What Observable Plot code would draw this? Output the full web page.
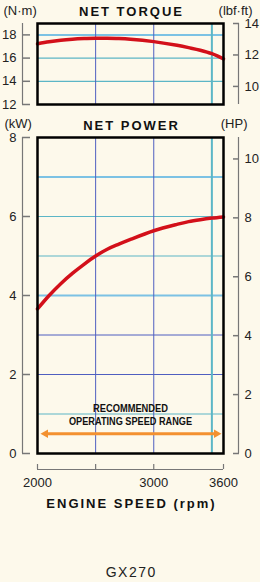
<!DOCTYPE html>
<html><head><meta charset="utf-8">
<script src="https://cdn.jsdelivr.net/npm/d3@7"></script>
<script src="https://cdn.jsdelivr.net/npm/@observablehq/plot@0.6"></script>
<style>
html,body{margin:0;padding:0;background:#fdf9eb;}
#chart{width:260px;height:582px;overflow:hidden;}
#chart svg{display:block;background:#fdf9eb;}
</style></head><body><div id="chart"></div>
<script>
// ---- data ----
const speedRpm = [2000, 2100, 2200, 2300, 2400, 2500, 2600, 2700, 2800, 3000, 3200, 3300, 3400, 3500, 3600];
const torqueNm = [17.23, 17.4, 17.53, 17.62, 17.68, 17.72, 17.72, 17.68, 17.62, 17.42, 17.1, 16.9, 16.68, 16.38, 15.93];
const powerKw  = [3.66, 4.0, 4.3, 4.56, 4.79, 5.0, 5.17, 5.3, 5.42, 5.64, 5.8, 5.87, 5.92, 5.96, 5.99];

const torqueTicksNm = [12, 14, 16, 18];
const torqueTicksLbf = [10, 12, 14];
const powerTicksKw = [0, 2, 4, 6, 8];
const powerTicksHp = [0, 2, 4, 6, 8, 10];
const speedTicks = [2000, 2500, 3000, 3600];
const speedLabels = ["2000", "", "3000", "3600"];

const torqueGridTeal = [14, 16];
const torqueGridLight = [18];
const powerGridBlue = [2, 3];
const powerGridTeal = [1, 5, 6];
const powerGridLight = [4, 7];
const speedGridBlue = [2500, 3000];
const speedGridTeal = [3500];

const rangeSpeed = [2000, 3600];
const rangeLevelKw = 0.5;
const rangeLabelSpeed = 2800;
const rangeLabelLines = ["RECOMMENDED", "OPERATING SPEED RANGE"];
const rangeLabelKw = [1.14, 0.81];

const NM_PER_LBFFT = 1.35582;
const KW_PER_HP = 0.7457;

const torqueTitle = "NET TORQUE", powerTitle = "NET POWER";
const axisTitle = "ENGINE SPEED (rpm)", model = "GX270";

// ---- styles ----
const BG = "#fdf9eb", TEAL = "#5cb6c6", LIGHT = "#7cc2e4", BLUE = "#4f5fc0", RED = "#d3101a",
      ORANGE = "#f39130", GRAY = "#777", INK = "#222";
const FONT = "Liberation Sans, Arial, Helvetica, sans-serif";

const rows = speedRpm.map((s, i) => ({speed: s, torque: torqueNm[i], power: powerKw[i]}));
const rangeRows = rangeLabelLines.map((t, i) => ({text: t, kw: rangeLabelKw[i]}));

function sideAxes(leftTicks, rightTicks, factor, yMin, yMax) {
  return [
    Plot.ruleX([2000], {y1: yMin, y2: yMax, dx: -15, stroke: GRAY, strokeWidth: 1.2}),
    Plot.axisY(leftTicks, {anchor: "left", tickSize: 8, dx: -7, tickPadding: 6, stroke: GRAY, strokeWidth: 1.5, fill: INK, fontSize: 13, label: null}),
    Plot.ruleX([3600], {y1: yMin, y2: yMax, dx: 15, stroke: GRAY, strokeWidth: 1.2}),
    Plot.axisY(rightTicks.map(v => v * factor), {anchor: "right", tickSize: 6, dx: 9, tickPadding: 6, stroke: GRAY, strokeWidth: 1.5, fill: INK, fontSize: 13, label: null, tickFormat: d => String(Math.round(d / factor))})
  ];
}
const label = (s, opts) => Plot.text([s], {text: d => d, lineAnchor: "middle", fontSize: 13, fill: INK, ...opts});

const tTop = 14 * NM_PER_LBFFT;
const torque = Plot.plot({
  width: 260, height: 112, marginLeft: 37, marginRight: 37, marginTop: 23, marginBottom: 8,
  style: {background: BG, fontFamily: FONT, fontSize: "13px", color: INK, overflow: "visible"},
  x: {domain: [2000, 3600], axis: null},
  y: {domain: [12, tTop]},
  marks: [
    Plot.ruleY(torqueGridTeal, {stroke: TEAL, strokeWidth: 1.2}),
    Plot.ruleY(torqueGridLight, {stroke: LIGHT, strokeWidth: 2}),
    Plot.ruleX(speedGridBlue, {stroke: BLUE, strokeWidth: 1}),
    Plot.ruleX(speedGridTeal, {stroke: TEAL, strokeWidth: 2}),
    Plot.line(rows, {x: "speed", y: "torque", stroke: RED, strokeWidth: 3.5, curve: "monotone-x"}),
    Plot.frame({stroke: "#000", strokeWidth: 2.5}),
    ...sideAxes(torqueTicksNm, torqueTicksLbf, NM_PER_LBFFT, 12, tTop),
    label(torqueTitle, {frameAnchor: "top", dy: -11.5, fontWeight: "bold", fill: "#111"}),
    label("(N·m)", {frameAnchor: "top-left", dx: -34, dy: -13, textAnchor: "start"}),
    label("(lbf·ft)", {frameAnchor: "top-right", dx: 29, dy: -13, textAnchor: "end"})
  ]
});

const power = Plot.plot({
  width: 260, height: 470, marginLeft: 37, marginRight: 37, marginTop: 25, marginBottom: 129,
  style: {background: BG, fontFamily: FONT, fontSize: "13px", color: INK, overflow: "visible"},
  x: {domain: [2000, 3600]},
  y: {domain: [0, 8]},
  marks: [
    Plot.ruleY(powerGridTeal, {stroke: TEAL, strokeWidth: 1.2}),
    Plot.ruleY(powerGridLight, {stroke: LIGHT, strokeWidth: 2}),
    Plot.ruleY(powerGridBlue, {stroke: BLUE, strokeWidth: 1}),
    Plot.ruleX(speedGridBlue, {stroke: BLUE, strokeWidth: 1}),
    Plot.ruleX(speedGridTeal, {stroke: TEAL, strokeWidth: 2}),
    Plot.line(rows, {x: "speed", y: "power", stroke: RED, strokeWidth: 3.5, curve: "monotone-x"}),
    Plot.text(rangeRows, {text: "text", x: rangeLabelSpeed, y: "kw", fontWeight: "bold", fontSize: 11.5, lineAnchor: "middle", fill: "#111"}),
    Plot.ruleY([rangeLevelKw], {x1: rangeSpeed[0], x2: rangeSpeed[1], insetLeft: 7, insetRight: 7, stroke: ORANGE, strokeWidth: 3}),
    Plot.dot([rangeSpeed[0]], {x: d => d, y: rangeLevelKw, dx: 8, symbol: "triangle", rotate: -90, r: 3.2, fill: ORANGE, stroke: null}),
    Plot.dot([rangeSpeed[1]], {x: d => d, y: rangeLevelKw, dx: -7, symbol: "triangle", rotate: 90, r: 3.2, fill: ORANGE, stroke: null}),
    Plot.frame({stroke: "#000", strokeWidth: 2.5}),
    ...sideAxes(powerTicksKw, powerTicksHp, KW_PER_HP, 0, 8),
    Plot.ruleY([0], {x1: 2000, x2: 3600, dy: 16, stroke: GRAY, strokeWidth: 1.2}),
    Plot.axisX(speedTicks, {anchor: "bottom", tickSize: 5, dy: 11, tickPadding: 8, stroke: GRAY, strokeWidth: 1.2, fill: INK, fontSize: 13, label: null, tickFormat: d => speedLabels[speedTicks.indexOf(d)]}),
    label(powerTitle, {frameAnchor: "top", dy: -12, fontWeight: "bold", fill: "#111"}),
    label("(kW)", {frameAnchor: "top-left", dx: -33, dy: -14, textAnchor: "start"}),
    label("(HP)", {frameAnchor: "top-right", dx: 24, dy: -14, textAnchor: "end"}),
    label(axisTitle, {frameAnchor: "bottom", dy: 50, fontWeight: "bold", fill: "#111"}),
    label(model, {frameAnchor: "bottom", dy: 119, fontSize: 14})
  ]
});

document.getElementById("chart").append(torque, power);

const spaced = {[torqueTitle]: 2, [powerTitle]: 2, [axisTitle]: 2, [model]: 1.5};
const narrow = {[rangeLabelLines[0]]: 75, [rangeLabelLines[1]]: 123};
for (const svg of [torque, power]) {
  d3.select(svg).selectAll("text").each(function () {
    const t = this.textContent;
    if (spaced[t]) d3.select(this).attr("letter-spacing", spaced[t]).attr("dx", (+this.getAttribute("dx") || 0) + spaced[t] / 2);
    if (narrow[t]) d3.select(this).attr("textLength", narrow[t]).attr("lengthAdjust", "spacingAndGlyphs");
  });
}
</script></body></html>
